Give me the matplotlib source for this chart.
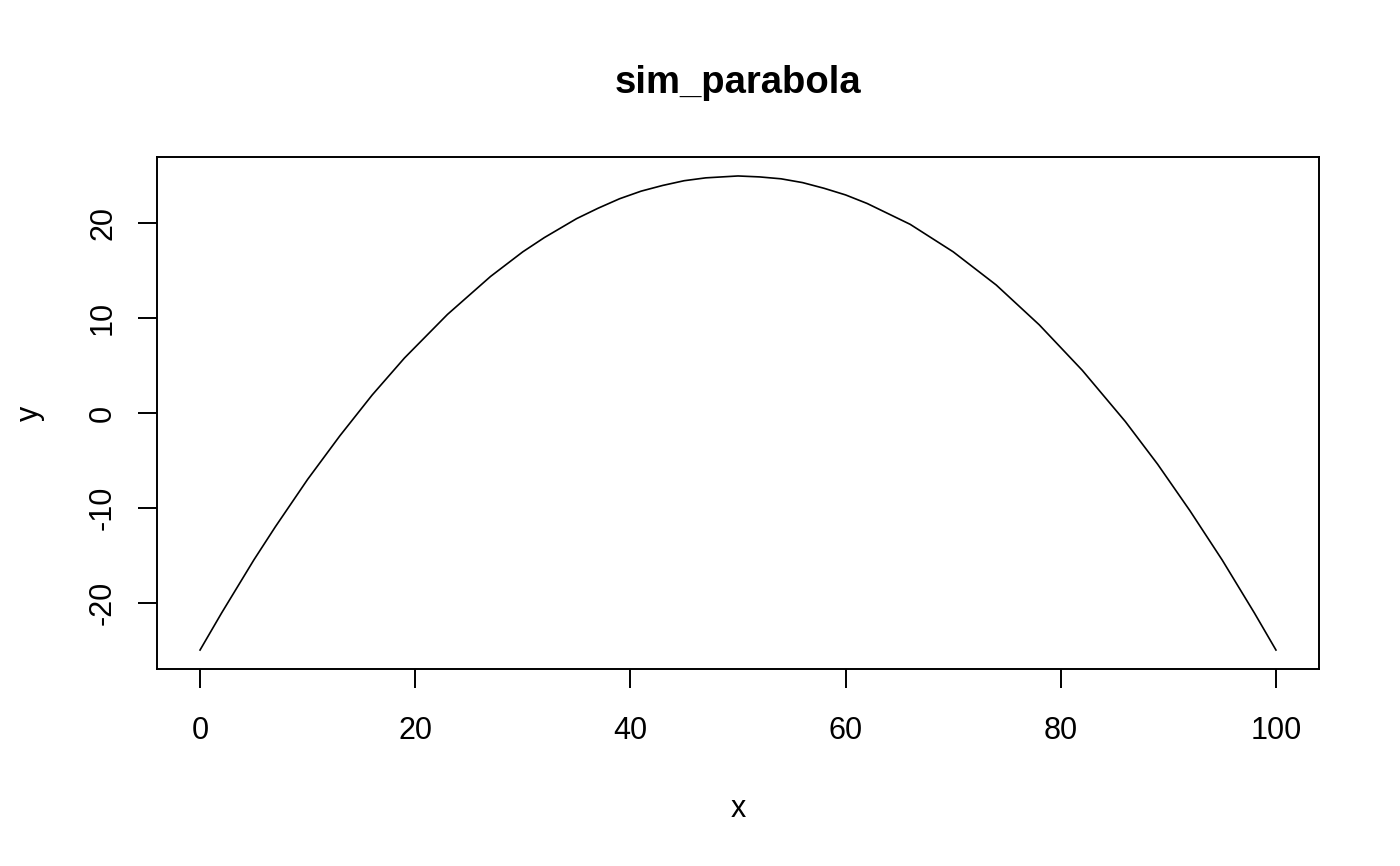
import matplotlib
matplotlib.use("Agg")
import matplotlib.pyplot as plt

# values
x_vals = [0, 2, 5, 7, 10, 13, 16, 19, 23, 27, 30, 32, 35, 37, 39, 41, 43, 45, 47, 50,
          52, 54, 56, 58, 60, 62, 66, 70, 74, 78, 82, 86, 89, 92, 95, 98, 100]
y_vals = [-25.0, -21.1, -15.5, -12.0, -7.0, -2.4, 1.9, 5.8, 10.4, 14.4, 17.0, 18.5, 20.5, 21.6, 22.6,
          23.4, 24.0, 24.5, 24.8, 25.0,
          24.9, 24.7, 24.3, 23.7, 23.0, 22.1, 19.9, 17.0, 13.5, 9.3, 4.5, -0.9, -5.4, -10.3,
          -15.5, -21.1, -25.0]

x_ticks = [0, 20, 40, 60, 80, 100]
y_ticks = [-20, -10, 0, 10, 20]

plt.rcParams['font.family'] = ['Liberation Sans', 'DejaVu Sans']

fig = plt.figure(figsize=(14, 8.66), dpi=100)
ax = fig.add_axes([157 / 1400, 197 / 866, 1162 / 1400, 512 / 866])

ax.plot(x_vals, y_vals, color='black', linewidth=1.2)

# R-style 4% padding
ax.set_xlim(-4, 104)
ax.set_ylim(-27, 27)

ax.set_xticks(x_ticks)
ax.set_xticklabels([str(v) for v in x_ticks])
ax.set_yticks(y_ticks)
ax.set_yticklabels([str(v) for v in y_ticks], rotation=90, va='center')

ax.tick_params(axis='both', direction='out', length=14, width=1.4, labelsize=22)
ax.tick_params(axis='x', pad=20)
ax.tick_params(axis='y', pad=14)

for sp in ax.spines.values():
    sp.set_linewidth(1.4)

ax.set_title('sim_parabola', fontsize=27.5, fontweight='bold', pad=46)

ax.set_xlabel('x', fontsize=22)
ax.xaxis.label.set_va('baseline')
ax.xaxis.set_label_coords(0.5, (49 - 197) / 512)

ax.set_ylabel('y', fontsize=22)
ax.yaxis.label.set_va('center')
ax.yaxis.set_label_coords((30 - 157) / 1162, 0.5)

fig.savefig('out.png', dpi=100, facecolor='white')
